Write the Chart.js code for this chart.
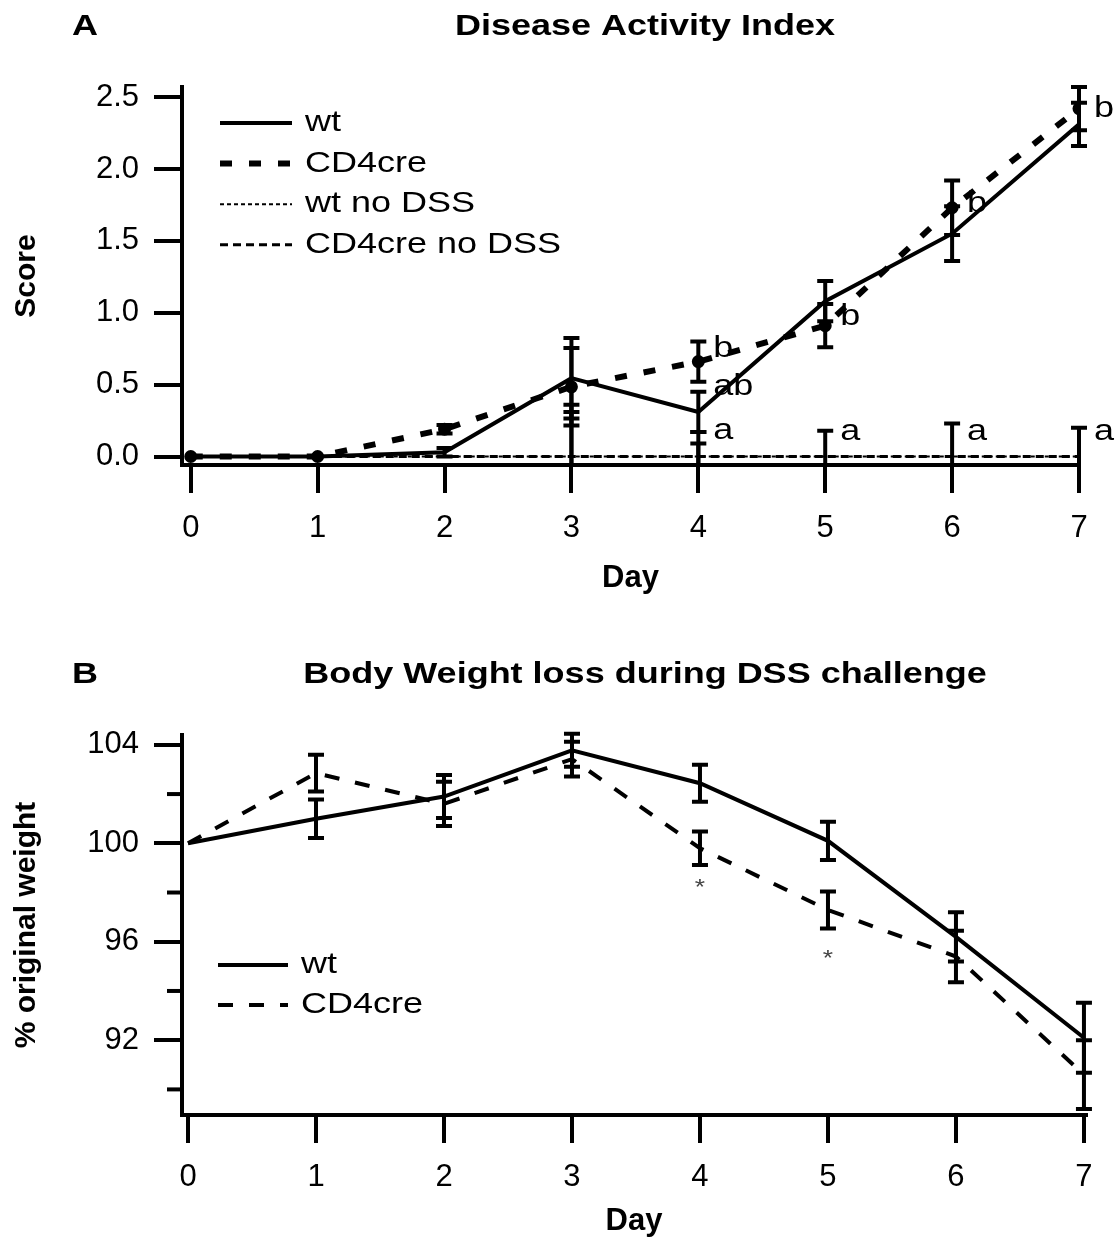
<!DOCTYPE html>
<html>
<head>
<meta charset="utf-8">
<title>DSS colitis</title>
<script src="https://cdn.jsdelivr.net/npm/chart.js@4.4.1/dist/chart.umd.min.js"></script>
<style>
  body { margin: 0; background: #fff; width: 1116px; height: 1240px; overflow: hidden; }
  canvas { display: block; }
</style>
</head>
<body>
<canvas id="daiChart" width="1116" height="620"></canvas>
<canvas id="weightChart" width="1116" height="620"></canvas>
<script>
// ---- data ----
const days = [0, 1, 2, 3, 4, 5, 6, 7];

// panel A: disease activity index (mean, sem)
const daiWt       = [0, 0, 0.03, 0.545, 0.31, 1.08, 1.55, 2.31];
const daiWtErr    = [0, 0, 0.03, 0.28, 0.14, 0.14, 0.19, 0.15];
const daiCd       = [0, 0, 0.19, 0.485, 0.66, 0.91, 1.73, 2.42];
const daiCdErr    = [0, 0, 0.03, 0.27, 0.14, 0.15, 0.19, 0.15];
const daiWtNo     = [0, 0, 0, 0, 0, 0, 0, 0];
const daiWtNoErr  = [0, 0, 0, 0.31, 0.17, 0.18, 0.23, 0.2];
const daiCdNo     = [0, 0, 0, 0, 0, 0, 0, 0];
const daiCdNoErr  = [0, 0, 0, 0.36, 0.09, 0, 0, 0];
const scoreTicks  = [0, 0.5, 1.0, 1.5, 2.0, 2.5];

// significance letters on panel A
const letterDays  = [4, 4, 4, 5, 5, 6, 6, 7, 7];
const letterY     = [0.75, 0.485, 0.18, 0.97, 0.17, 1.76, 0.17, 2.42, 0.17];
const letterText  = ["b", "ab", "a", "b", "a", "b", "a", "b", "a"];

// panel B: body weight, % of day 0
const bwWt        = [100, 101.0, 101.9, 103.78, 102.44, 100.1, 96.2, 92.1];
const bwWtErr     = [0, 0.78, 0.87, 0.67, 0.75, 0.78, 1.0, 1.42];
const bwCd        = [100, 102.85, 101.6, 103.42, 99.8, 97.29, 95.4, 90.6];
const bwCdErr     = [0, 0.75, 0.9, 0.71, 0.68, 0.75, 1.05, 1.4];
const weightTicks = [92, 96, 100, 104];
const weightMinor = [90, 94, 98, 102];
const starDays    = [4, 5];
const starY       = [98.2, 95.3];

const FONT = "'Liberation Sans', Arial, sans-serif";
const WIDE = 1.2; // the original lettering is wider than Arial

function pts(ys) {
    return days.map((d, i) => ({ x: d, y: ys[i] }));
}

// fillText stretched horizontally around its anchor
function wideText(ctx, text, x, y, align) {
    ctx.save();
    ctx.translate(x, y);
    ctx.scale(WIDE, 1);
    ctx.textAlign = align;
    ctx.fillText(text, 0, 0);
    ctx.restore();
}

// error bars with caps, drawn through the chart scales
const errorBars = {
    id: "errorBars",
    afterDatasetsDraw(chart) {
        const { ctx, chartArea, scales } = chart;
        const x = scales.x, y = scales.y;
        ctx.save();
        ctx.beginPath();
        ctx.rect(chartArea.left, chartArea.top - 6, chartArea.right - chartArea.left + 12, chartArea.bottom - chartArea.top + 6);
        ctx.clip();
        ctx.strokeStyle = "#000";
        ctx.lineWidth = 4;
        ctx.setLineDash([]);
        chart.data.datasets.forEach(ds => {
            if (!ds.errors) return;
            ds.data.forEach((p, i) => {
                const e = ds.errors[i];
                if (!e) return;
                const px = x.getPixelForValue(p.x);
                const top = y.getPixelForValue(p.y + e);
                const bot = y.getPixelForValue(p.y - e);
                ctx.beginPath();
                ctx.moveTo(px, top); ctx.lineTo(px, bot);
                ctx.moveTo(px - 8, top); ctx.lineTo(px + 8, top);
                ctx.moveTo(px - 8, bot); ctx.lineTo(px + 8, bot);
                ctx.stroke();
            });
        });
        ctx.restore();
    }
};

// panel letter + heading
const panelTitle = {
    id: "panelTitle",
    afterDraw(chart, args, o) {
        const ctx = chart.ctx;
        ctx.save();
        ctx.fillStyle = "#000";
        ctx.font = "bold 30px " + FONT;
        ctx.textBaseline = "middle";
        wideText(ctx, o.letter, o.letterX, o.y, "center");
        wideText(ctx, o.text, o.textX, o.y, "center");
        ctx.restore();
    }
};

// legend inside the plot, line samples use the dataset styles
const lineKey = {
    id: "lineKey",
    afterDraw(chart, args, o) {
        const ctx = chart.ctx;
        ctx.save();
        o.items.forEach((idx, r) => {
            const ds = chart.data.datasets[idx];
            const yy = o.top + r * o.rowGap;
            ctx.strokeStyle = ds.borderColor;
            ctx.lineWidth = ds.borderWidth;
            ctx.setLineDash(ds.borderDash || []);
            ctx.beginPath();
            ctx.moveTo(o.left, yy);
            ctx.lineTo(o.left + o.sampleLen, yy);
            ctx.stroke();
            ctx.setLineDash([]);
            ctx.fillStyle = "#000";
            ctx.font = "30px " + FONT;
            ctx.textBaseline = "middle";
            wideText(ctx, ds.label, o.left + o.sampleLen + o.textGap, yy, "left");
        });
        ctx.restore();
    }
};

// text marks placed in data coordinates
const textMarks = {
    id: "textMarks",
    afterDraw(chart, args, o) {
        const { ctx, scales } = chart;
        ctx.save();
        ctx.fillStyle = o.color;
        ctx.font = o.font;
        ctx.textBaseline = "middle";
        o.days.forEach((d, i) => {
            wideText(ctx, o.texts[i], scales.x.getPixelForValue(d) + o.dx, scales.y.getPixelForValue(o.values[i]), o.align);
        });
        ctx.restore();
    }
};

// short unlabeled ticks on the weight axis
const minorTicks = {
    id: "minorTicks",
    afterDraw(chart, args, o) {
        if (!o.values) return;
        const { ctx, scales, chartArea } = chart;
        ctx.save();
        ctx.strokeStyle = "#000";
        ctx.lineWidth = 4;
        o.values.forEach(v => {
            const py = scales.y.getPixelForValue(v);
            ctx.beginPath();
            ctx.moveTo(chartArea.left - o.len, py);
            ctx.lineTo(chartArea.left, py);
            ctx.stroke();
        });
        ctx.restore();
    }
};

function axes(o) {
    return {
        x: {
            type: "linear",
            min: o.xMin,
            max: o.xMax,
            afterBuildTicks: s => { s.ticks = days.map(v => ({ value: v })); },
            afterFit: s => { s.height = o.xHeight; },
            border: { color: "#000", width: 4 },
            grid: { drawOnChartArea: false, color: "#000", lineWidth: 4, tickLength: 28 },
            ticks: { color: "#000", padding: o.xPad, font: { family: FONT, size: 31 }, callback: v => String(v) },
            title: { display: true, text: "Day", color: "#000", font: { family: FONT, size: 31, weight: "bold" }, padding: { top: 0, bottom: o.xTitlePad } }
        },
        y: {
            type: "linear",
            min: o.yMin,
            max: o.yMax,
            afterBuildTicks: s => { s.ticks = o.yTicks.map(v => ({ value: v })); },
            afterFit: s => { s.width = 182; },
            border: { color: "#000", width: 4 },
            grid: { drawOnChartArea: false, color: "#000", lineWidth: 4, tickLength: 28 },
            ticks: { color: "#000", padding: 15, font: { family: FONT, size: 31 }, callback: o.yFmt },
            title: { display: true, text: o.yTitle, color: "#000", font: { family: FONT, size: 30, weight: "bold" }, padding: { top: 9, bottom: 0 } }
        }
    };
}

const base = { fill: false, tension: 0, pointRadius: 0, borderColor: "#000", backgroundColor: "#000" };

new Chart(document.getElementById("daiChart"), {
    type: "line",
    data: {
        datasets: [
            { ...base, label: "wt", data: pts(daiWt), errors: daiWtErr, borderWidth: 4 },
            { ...base, label: "CD4cre", data: pts(daiCd), errors: daiCdErr, borderWidth: 6, borderDash: [12, 17], pointRadius: 3.5 },
            { ...base, label: "wt no DSS", data: pts(daiWtNo), errors: daiWtNoErr, borderWidth: 2, borderDash: [4, 3] },
            { ...base, label: "CD4cre no DSS", data: pts(daiCdNo), errors: daiCdNoErr, borderWidth: 3, borderDash: [8, 5] }
        ]
    },
    options: {
        responsive: false,
        animation: false,
        devicePixelRatio: 1,
        layout: { padding: { top: 87, right: 37, bottom: 0, left: 0 } },
        scales: axes({ xMin: -0.069, xMax: 7.0, xHeight: 155, xPad: 17, xTitlePad: 23,
                       yMin: -0.059, yMax: 2.57, yTicks: scoreTicks, yFmt: v => v.toFixed(1), yTitle: "Score" }),
        plugins: {
            legend: { display: false },
            tooltip: { enabled: false },
            panelTitle: { letter: "A", letterX: 85, text: "Disease Activity Index", textX: 645, y: 27 },
            lineKey: { items: [0, 1, 2, 3], left: 220, top: 123, rowGap: 40.6, sampleLen: 72, textGap: 13 },
            textMarks: { days: letterDays, values: letterY, texts: letterText, dx: 15, align: "left", color: "#000", font: "30px " + FONT }
        }
    },
    plugins: [errorBars, panelTitle, lineKey, textMarks]
});

new Chart(document.getElementById("weightChart"), {
    type: "line",
    data: {
        datasets: [
            { ...base, label: "wt", data: pts(bwWt), errors: bwWtErr, borderWidth: 4 },
            { ...base, label: "CD4cre", data: pts(bwCd), errors: bwCdErr, borderWidth: 4, borderDash: [15, 16] }
        ]
    },
    options: {
        responsive: false,
        animation: false,
        devicePixelRatio: 1,
        layout: { padding: { top: 115, right: 30, bottom: 0, left: 0 } },
        scales: axes({ xMin: -0.047, xMax: 7.016, xHeight: 125, xPad: 16, xTitlePad: 0,
                       yMin: 88.96, yMax: 104.4, yTicks: weightTicks, yFmt: v => String(v), yTitle: "% original weight" }),
        plugins: {
            legend: { display: false },
            tooltip: { enabled: false },
            panelTitle: { letter: "B", letterX: 85, text: "Body Weight loss during DSS challenge", textX: 645, y: 55 },
            lineKey: { items: [0, 1], left: 218, top: 345, rowGap: 40, sampleLen: 70, textGap: 13 },
            textMarks: { days: starDays, values: starY, texts: ["*", "*"], dx: 0, align: "center", color: "#444", font: "22px " + FONT },
            minorTicks: { values: weightMinor, len: 15 }
        }
    },
    plugins: [errorBars, panelTitle, lineKey, textMarks, minorTicks]
});
</script>
</body>
</html>
